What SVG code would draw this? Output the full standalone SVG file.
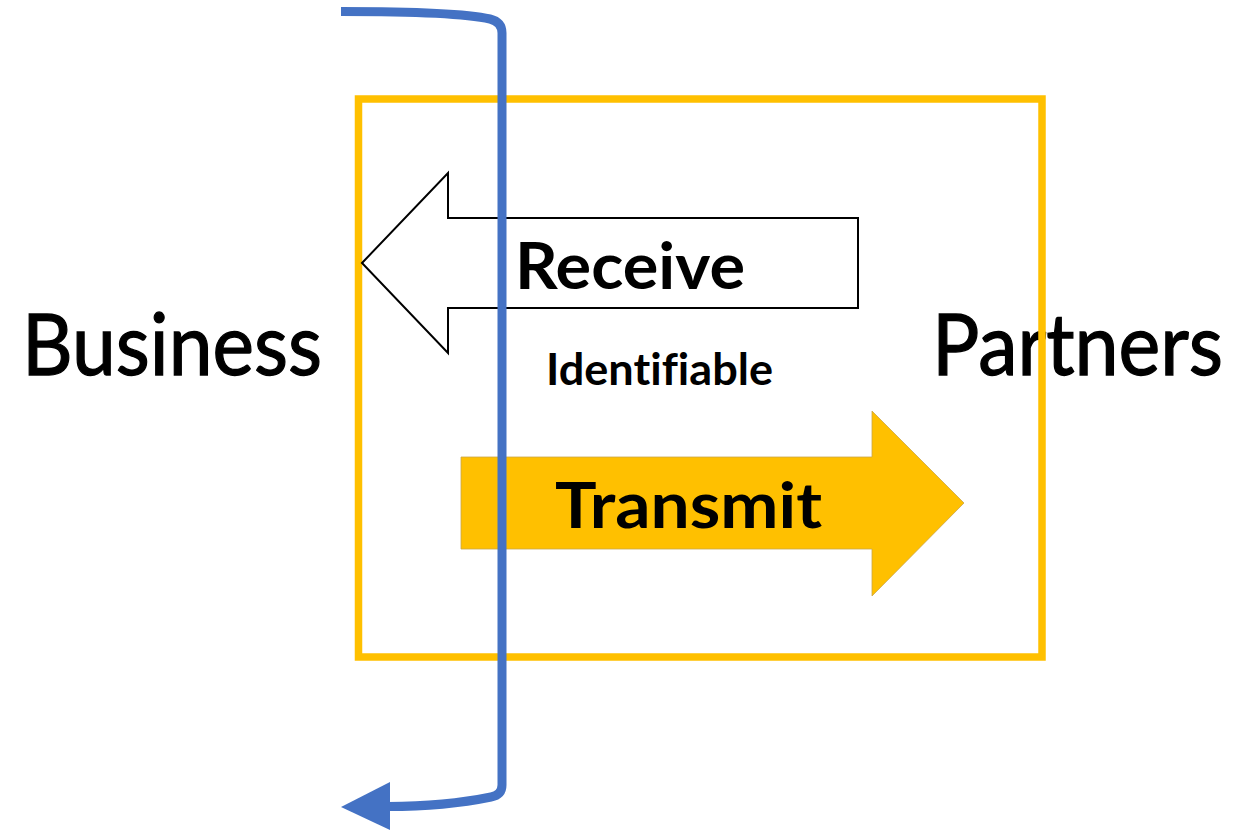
<svg xmlns="http://www.w3.org/2000/svg" width="1250" height="831" viewBox="0 0 1250 831">
  <style>
    .side { font-family: Lato, "Open Sans", "Liberation Sans", sans-serif; font-size: 86px; fill: #000; stroke: #000; stroke-width: 1.3; }
    .lbl { font-family: Lato, "Open Sans", "Liberation Sans", sans-serif; font-weight: bold; fill: #000; font-variant-ligatures: none; }
    .frame { fill: none; stroke: #FFC000; stroke-width: 7.5; }
    .flow { fill: none; stroke: #4472C4; stroke-width: 9; stroke-linecap: butt; stroke-linejoin: round; }
  </style>
  <rect width="1250" height="831" fill="#ffffff"/>

  <!-- side labels -->
  <g id="business">
    <text class="side" x="22" y="375" textLength="300" lengthAdjust="spacingAndGlyphs">Business</text>
  </g>
  <g id="partners">
    <text class="side" x="932" y="375" textLength="291" lengthAdjust="spacingAndGlyphs">Partners</text>
  </g>

  <!-- boundary box -->
  <g id="boundary">
    <rect class="frame" x="358.5" y="99" width="683.5" height="558"/>
  </g>

  <!-- receive arrow pointing left -->
  <g id="receive">
    <polygon points="362,263 448,173 448,218 858,218 858,308 448,308 448,353" fill="#ffffff" stroke="#000000" stroke-width="2" stroke-linejoin="miter"/>
    <text class="lbl" x="515" y="289" font-size="65" textLength="230" lengthAdjust="spacingAndGlyphs">Receive</text>
  </g>

  <g id="identifiable">
    <text class="lbl" x="546" y="385" font-size="43" textLength="227" lengthAdjust="spacingAndGlyphs">Identifiable</text>
  </g>

  <!-- transmit arrow pointing right -->
  <g id="transmit">
    <polygon points="461,457 872,457 872,411 964,503 872,596 872,549 461,549" fill="#FFC000" stroke="#C9A64A" stroke-width="0.8"/>
    <text class="lbl" x="555" y="528" font-size="64" textLength="267" lengthAdjust="spacingAndGlyphs">Transmit</text>
  </g>

  <!-- connector crossing the boundary -->
  <g id="connectors">
    <path class="flow" d="M341,11.5 C420,11.5 468,14 490,19 Q502,22 502,33 L502,785 Q502,795 491,797 C462,803 425,806.5 388,806.5"/>
    <polygon points="341,807 390,782 390,830" fill="#4472C4"/>
  </g>
</svg>
